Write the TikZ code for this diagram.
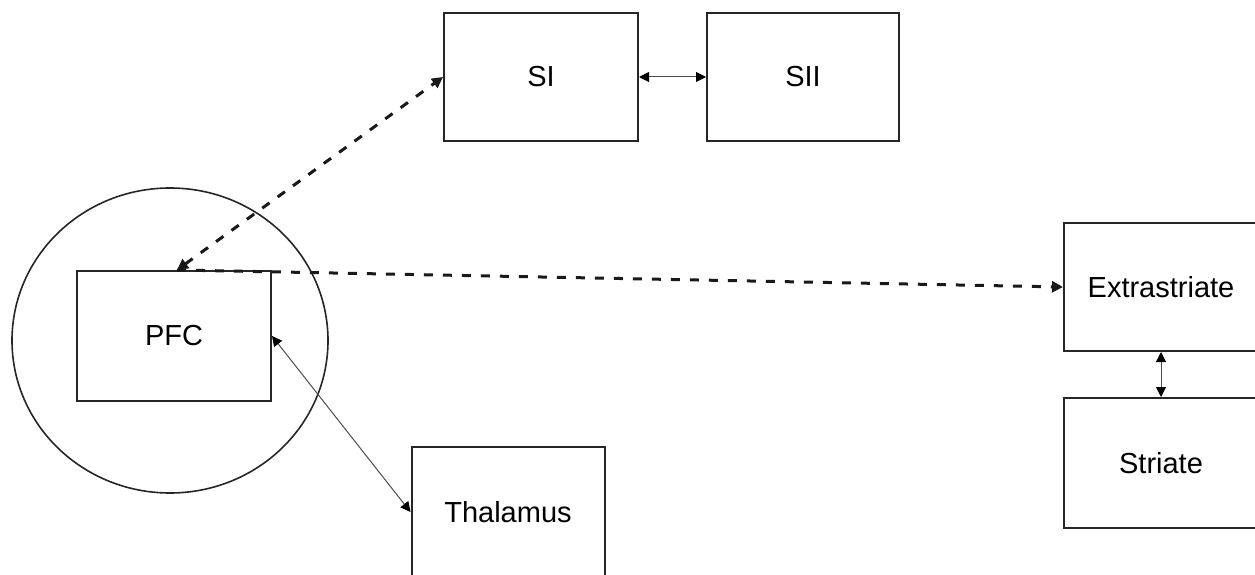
\documentclass[tikz,border=0pt]{standalone}
\usepackage{fontspec}
\setmainfont{Liberation Sans}
\usetikzlibrary{arrows.meta,calc,shapes.geometric}
\begin{document}
\begin{tikzpicture}[x=1pt,y=-1pt,
  box/.style={draw=black!85,line width=2pt,rectangle,inner sep=0pt,font=\fontsize{29}{32}\selectfont},
  link/.style={line width=1pt,draw=black!70,{Triangle[length=10pt,width=10pt,color=black]}-{Triangle[length=10pt,width=10pt,color=black]}},
  dlink/.style={line width=3pt,dash pattern=on 9pt off 10pt,draw=black!90}]
\useasboundingbox (0,0) rectangle (1255,575);
\clip (0,0) rectangle (1255,575);
\node[box,minimum width=194pt,minimum height=128pt] (SI) at (541,77) {SI};
\node[box,minimum width=192pt,minimum height=128pt] (SII) at (803,77) {SII};
\node[box,minimum width=194pt,minimum height=130pt] (PFC) at (174,336) {PFC};
\node[box,minimum width=193pt,minimum height=130pt] (Thal) at (508,512) {Thalamus};
\node[box,minimum width=194pt,minimum height=128pt] (Extra) at (1161,287) {Extrastriate};
\node[box,minimum width=194pt,minimum height=130pt] (Striate) at (1161,463) {Striate};
\node[draw=black!85,line width=1.6pt,ellipse,minimum width=316pt,minimum height=305pt,inner sep=0pt] (ring) at (170,340.5) {};
\draw[link] (SI.east) -- (SII.west);
\draw[link] (Extra.south) -- (Striate.north);
\draw[link] (PFC.east) -- (Thal.west);
\draw[dlink,{Triangle[length=11pt,width=11pt]}-{Triangle[length=11pt,width=11pt]}] ($(PFC.north)+(3,0)$) -- (SI.west);
\draw[dlink,-{Triangle[length=11pt,width=11pt]}] ($(PFC.north)+(3,0)$) -- (Extra.west);
\end{tikzpicture}
\end{document}
